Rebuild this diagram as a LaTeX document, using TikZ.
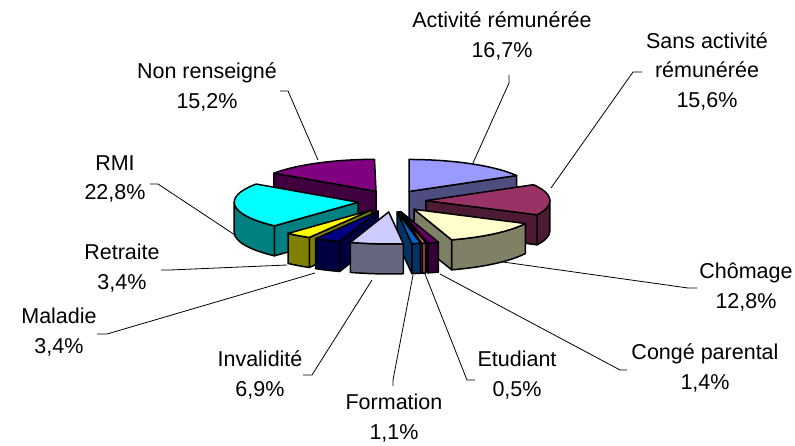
\documentclass[tikz,border=0pt]{standalone}
\usepackage{fontspec}
\setmainfont{Liberation Sans}
\definecolor{actT}{HTML}{9999FF}\definecolor{actS}{HTML}{4D4D80}
\definecolor{sansT}{HTML}{993366}\definecolor{sansS}{HTML}{4D1A33}
\definecolor{choT}{HTML}{FFFFCC}\definecolor{choS}{HTML}{808066}
\definecolor{conT}{HTML}{660066}\definecolor{conS}{HTML}{330033}
\definecolor{etuT}{HTML}{FF8080}\definecolor{etuS}{HTML}{804040}
\definecolor{forT}{HTML}{0066CC}\definecolor{forS}{HTML}{003366}
\definecolor{invT}{HTML}{CCCCFF}\definecolor{invS}{HTML}{666680}
\definecolor{malT}{HTML}{000080}\definecolor{malS}{HTML}{000040}
\definecolor{retT}{HTML}{FFFF00}\definecolor{retS}{HTML}{808000}
\definecolor{rmiT}{HTML}{00FFFF}\definecolor{rmiS}{HTML}{008080}
\definecolor{nonT}{HTML}{800080}\definecolor{nonS}{HTML}{400040}
\newcommand\pieApex[2]{\pgfmathsetmacro\pmid{(#1+#2)/2}\pgfmathsetmacro\pax{392+34*sin(\pmid)}\pgfmathsetmacro\pay{201-11*cos(\pmid)}}
\newcommand\pieRad[2]{\filldraw[face,fill=#2] (\pax,\pay) -- ({\pax+124*sin(#1)},{\pay-32*cos(#1)}) -- ++(0,30) -- (\pax,{\pay+30}) -- cycle;}
\newcommand\pieOut[3]{\filldraw[face,fill=#3] ({\pax+124*sin(#1)},{\pay-32*cos(#1)}) arc[start angle={#1-90},end angle={#2-90},x radius=124,y radius=32] -- ++(0,30) arc[start angle={#2-90},end angle={#1-90},x radius=124,y radius=32] -- cycle;}
\newcommand\pieTop[3]{\filldraw[face,fill=#3] (\pax,\pay) -- ({\pax+124*sin(#1)},{\pay-32*cos(#1)}) arc[start angle={#1-90},end angle={#2-90},x radius=124,y radius=32] -- cycle;}
\begin{document}
\begin{tikzpicture}[x=1pt,y=-1pt,
  face/.style={draw=black,line width=1.5pt,line join=round},
  lbl/.style={font=\fontsize{21.5}{29.5}\selectfont,align=center,inner sep=0pt},
  lead/.style={draw=black,line width=0.8pt}]
\useasboundingbox (0,0) rectangle (795,446);
% Non renseigne
\pieApex{304.6}{359.3}\pieRad{304.6}{nonS}\pieTop{304.6}{359.3}{nonT}
% Activite
\pieApex{0}{60.1}\pieRad{60.1}{actS}\pieTop{0}{60.1}{actT}
% Sans activite
\pieApex{60.1}{116.3}\pieOut{90}{116.3}{sansS}\pieRad{116.3}{sansS}\pieTop{60.1}{116.3}{sansT}
% RMI
\pieApex{222.5}{304.6}\pieRad{222.5}{rmiS}\pieOut{222.5}{270}{rmiS}\pieTop{222.5}{304.6}{rmiT}
% Chomage
\pieApex{116.3}{162.4}\pieOut{116.3}{162.4}{choS}\pieRad{162.4}{choS}\pieTop{116.3}{162.4}{choT}
% Retraite
\pieApex{210.3}{222.5}\pieRad{210.3}{retS}\pieOut{210.3}{222.5}{retS}\pieTop{210.3}{222.5}{retT}
% Maladie
\pieApex{198}{210.3}\pieRad{198}{malS}\pieOut{198}{210.3}{malS}\pieTop{198}{210.3}{malT}
% Conge parental
\pieApex{162.4}{167.4}\pieOut{162.4}{167.4}{conS}\pieRad{167.4}{conS}\pieTop{162.4}{167.4}{conT}
% Etudiant
\pieApex{167.4}{169.2}\pieOut{167.4}{169.2}{etuS}\pieRad{169.2}{etuS}\pieTop{167.4}{169.2}{etuT}
% Formation
\pieApex{169.2}{173.2}\pieOut{169.2}{173.2}{forS}\pieRad{173.2}{forS}\pieTop{169.2}{173.2}{forT}
% Invalidite
\pieApex{173.2}{198}\pieOut{173.2}{198}{invS}\pieTop{173.2}{198}{invT}

% labels
\node[lbl] (lAct) at (502,36) {Activité rémunérée\\16,7\%};
\node[lbl] (lSans) at (707,71) {Sans activité\\rémunérée\\15,6\%};
\node[lbl] (lNon) at (207,87) {Non renseigné\\15,2\%};
\node[lbl] (lRmi) at (115,179) {RMI\\22,8\%};
\node[lbl] (lRet) at (122,268) {Retraite\\3,4\%};
\node[lbl] (lMal) at (59,332) {Maladie\\3,4\%};
\node[lbl] (lInv) at (260,375) {Invalidité\\6,9\%};
\node[lbl] (lFor) at (394,418) {Formation\\1,1\%};
\node[lbl] (lEtu) at (517,375) {Etudiant\\0,5\%};
\node[lbl] (lCho) at (746,287) {Chômage\\12,8\%};
\node[lbl] (lCon) at (705,368) {Congé parental\\1,4\%};

% leader coordinates
\coordinate (sAct) at (509,75); \coordinate (bAct) at (509,83); \coordinate (eAct) at (473,163);
\coordinate (sSans) at (642,72); \coordinate (bSans) at (633,72); \coordinate (eSans) at (551,188);
\coordinate (sNon) at (280,91); \coordinate (bNon) at (288,91); \coordinate (eNon) at (318,160);
\coordinate (sRmi) at (150,184); \coordinate (bRmi) at (158,184); \coordinate (eRmi) at (235,235);
\coordinate (sRet) at (161,270); \coordinate (bRet) at (170,270); \coordinate (eRet) at (287,265);
\coordinate (sMal) at (97,334); \coordinate (bMal) at (107,334); \coordinate (eMal) at (315,273);
\coordinate (sInv) at (303,375); \coordinate (bInv) at (312,375); \coordinate (eInv) at (372,280);
\coordinate (sFor) at (393,386); \coordinate (bFor) at (393,380); \coordinate (eFor) at (413,275);
\coordinate (sEtu) at (475,380); \coordinate (bEtu) at (467,380); \coordinate (eEtu) at (425,274);
\coordinate (sCho) at (697,288); \coordinate (bCho) at (688,288); \coordinate (eCho) at (503,262);
\coordinate (sCon) at (627,370); \coordinate (bCon) at (620,370); \coordinate (eCon) at (440,274);
\foreach \k in {Act,Sans,Non,Rmi,Ret,Mal,Inv,For,Etu,Cho,Con}{
  \draw[lead] (s\k) -- (b\k) -- (e\k);
}
\end{tikzpicture}
\end{document}
